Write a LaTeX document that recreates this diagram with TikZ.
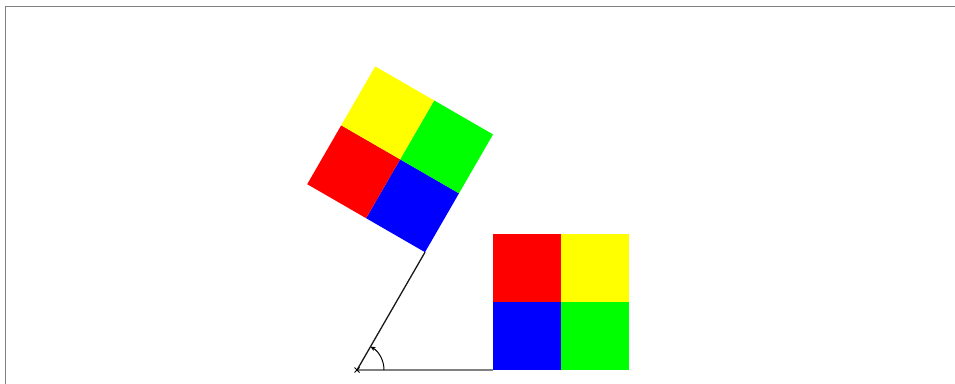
\documentclass[tikz,border=0pt]{standalone}
\usetikzlibrary{arrows.meta}
\definecolor{qred}{RGB}{255,0,0}
\definecolor{qyellow}{RGB}{255,255,0}
\definecolor{qgreen}{RGB}{0,255,0}
\definecolor{qblue}{RGB}{0,0,255}
\tikzset{
  quad/.pic={
    \fill[qblue]   (0,0)   rectangle (68,68);
    \fill[qgreen]  (68,0)  rectangle (136,68);
    \fill[qred]    (0,68)  rectangle (68,136);
    \fill[qyellow] (68,68) rectangle (136,136);
  },
  frameline/.style={draw=black!50, line width=1.5pt},
  baseseg/.style={draw=black!50, line width=2pt},
  armseg/.style={draw=black!90, line width=1.3pt},
}
\begin{document}
\begin{tikzpicture}[x=1pt,y=1pt]
\useasboundingbox (0,0) rectangle (955,383);
\fill[white] (0,0) rectangle (955,383);
\draw[frameline] (5.5,-5) -- (5.5,376.5) -- (960,376.5);
\coordinate (O) at (357,13);
\coordinate (A) at (493,13);
\coordinate (B) at (425,130.8);
\pic at (A) {quad};
\pic[rotate=60] at (B) {quad};
\draw[baseseg] (O) -- (A);
\draw[armseg] (O) -- (B);
\draw[black, line width=1pt, -{Stealth[length=5pt,width=4.5pt]}] ([shift={(0:27)}]O) arc[start angle=0, end angle=60, radius=27];
\draw[black, line width=1pt] ([shift={(-2.5,-2.5)}]O) -- ([shift={(2.5,2.5)}]O)
  ([shift={(-2.5,2.5)}]O) -- ([shift={(2.5,-2.5)}]O);
\end{tikzpicture}
\end{document}
